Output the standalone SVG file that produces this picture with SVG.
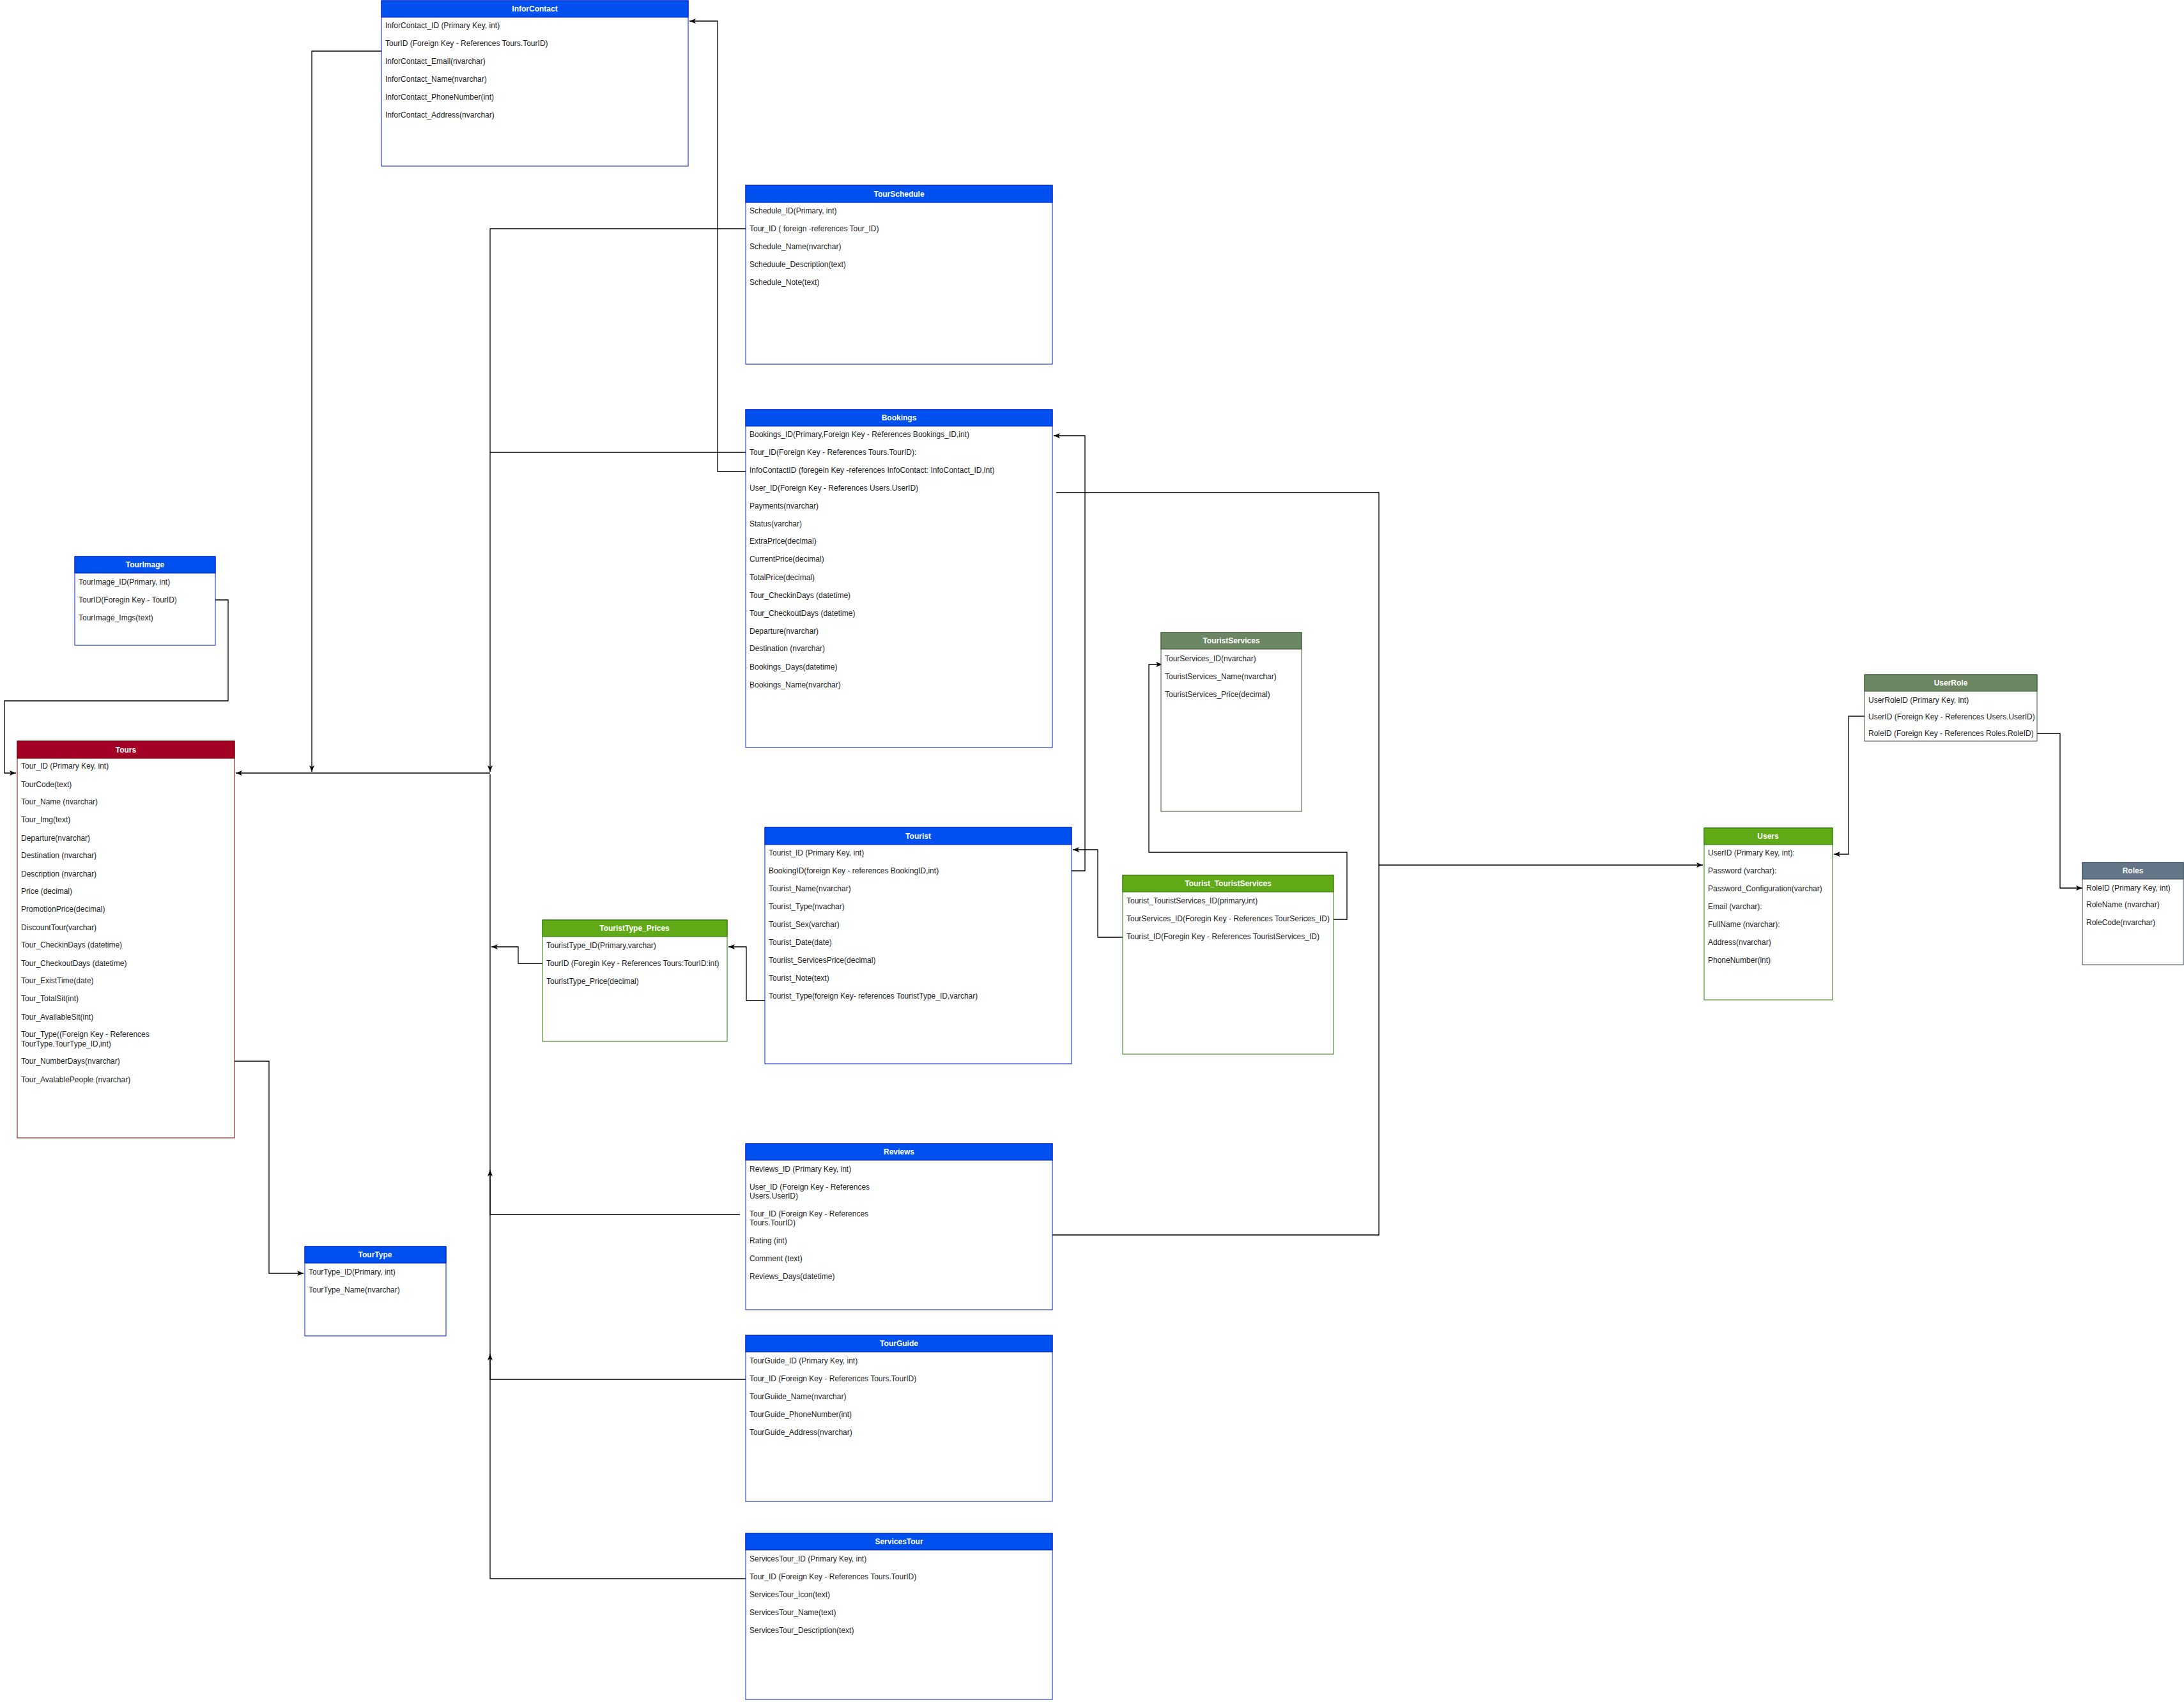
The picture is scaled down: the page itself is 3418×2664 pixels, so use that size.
<svg xmlns="http://www.w3.org/2000/svg" width="3418" height="2664" viewBox="0 0 3418 2664">
<style>
text{font-family:"Liberation Sans",Arial,Helvetica,sans-serif;font-size:12px;fill:#1a1a1a}
.h{font-weight:bold;fill:#ffffff;text-anchor:middle}
.body{fill:#ffffff}
.blue .body{stroke:#001DBC}
.blue .hd{fill:#0050EF;stroke:#001DBC}
.red .body{stroke:#6F0000}
.red .hd{fill:#A20025;stroke:#6F0000}
.green .body{stroke:#2D7600}
.green .hd{fill:#60A917;stroke:#2D7600}
.olive .body{stroke:#3A5431}
.olive .hd{fill:#6D8764;stroke:#3A5431}
.slate .body{stroke:#314354}
.slate .hd{fill:#647687;stroke:#314354}
.c path{fill:none;stroke:#000000;stroke-width:1.3}
</style>
<defs>
<marker id="arr" viewBox="0 0 10 8" refX="10" refY="4" markerWidth="10" markerHeight="8" orient="auto" markerUnits="userSpaceOnUse">
<path d="M0,0 L10,4 L0,8 L2.5,4 Z" fill="#000000"/>
</marker>
</defs>
<rect width="3418" height="2664" fill="#ffffff"/>

<g class="c" id="connectors">
<path d="M337,939 H357 V1097 H7 V1210 H25" marker-end="url(#arr)"/>
<path d="M597,80 H488 V1208" marker-end="url(#arr)"/>
<path d="M1167,358 H767 V1208" marker-end="url(#arr)"/>
<path d="M1167,708 H767"/>
<path d="M767,1210 H369" marker-end="url(#arr)"/>
<path d="M1158,1901 H767 V1212"/>
<path d="M1167,2159 H767 V1831" marker-end="url(#arr)"/>
<path d="M1167,2471 H767 V2119" marker-end="url(#arr)"/>
<path d="M849,1508 H811 V1482 H769" marker-end="url(#arr)"/>
<path d="M1197,1566 H1168 V1482 H1140" marker-end="url(#arr)"/>
<path d="M1677,1363 H1698 V682 H1649" marker-end="url(#arr)"/>
<path d="M1167,738 H1123 V33 H1079" marker-end="url(#arr)"/>
<path d="M1653,771 H2158 V1354 H2665" marker-end="url(#arr)"/>
<path d="M1647,1933 H2158 V1354"/>
<path d="M1757,1467 H1718 V1330 H1679" marker-end="url(#arr)"/>
<path d="M2087,1439 H2108 V1334 H1798 V1040 H1819" marker-end="url(#arr)"/>
<path d="M2918,1121 H2893 V1337 H2870" marker-end="url(#arr)"/>
<path d="M3188,1148 H3224 V1390 H3259" marker-end="url(#arr)"/>
<path d="M367,1661 H421 V1993 H475" marker-end="url(#arr)"/>
</g>

<g id="InforContact" class="blue">
<rect class="body" x="597" y="1" width="480" height="259"/>
<rect class="hd" x="597" y="1" width="480" height="26"/>
<text class="h" x="837" y="18">InforContact</text>
<text x="603" y="44">InforContact_ID (Primary Key, int)</text>
<text x="603" y="72">TourID (Foreign Key - References Tours.TourID)</text>
<text x="603" y="100">InforContact_Email(nvarchar)</text>
<text x="603" y="128">InforContact_Name(nvarchar)</text>
<text x="603" y="156">InforContact_PhoneNumber(int)</text>
<text x="603" y="184">InforContact_Address(nvarchar)</text>
</g>

<g id="TourSchedule" class="blue">
<rect class="body" x="1167" y="290" width="480" height="280"/>
<rect class="hd" x="1167" y="290" width="480" height="27"/>
<text class="h" x="1407" y="308">TourSchedule</text>
<text x="1173" y="334">Schedule_ID(Primary, int)</text>
<text x="1173" y="362">Tour_ID ( foreign -references Tour_ID)</text>
<text x="1173" y="390">Schedule_Name(nvarchar)</text>
<text x="1173" y="418">Scheduule_Description(text)</text>
<text x="1173" y="446">Schedule_Note(text)</text>
</g>

<g id="Bookings" class="blue">
<rect class="body" x="1167" y="641" width="480" height="529"/>
<rect class="hd" x="1167" y="641" width="480" height="26"/>
<text class="h" x="1407" y="658">Bookings</text>
<text x="1173" y="684">Bookings_ID(Primary,Foreign Key - References Bookings_ID,int)</text>
<text x="1173" y="712">Tour_ID(Foreign Key - References Tours.TourID):</text>
<text x="1173" y="740">InfoContactID (foregein Key -references InfoContact: InfoContact_ID,int)</text>
<text x="1173" y="768">User_ID(Foreign Key - References Users.UserID)</text>
<text x="1173" y="796">Payments(nvarchar)</text>
<text x="1173" y="824">Status(varchar)</text>
<text x="1173" y="851">ExtraPrice(decimal)</text>
<text x="1173" y="879">CurrentPrice(decimal)</text>
<text x="1173" y="908">TotalPrice(decimal)</text>
<text x="1173" y="936">Tour_CheckinDays (datetime)</text>
<text x="1173" y="964">Tour_CheckoutDays (datetime)</text>
<text x="1173" y="992">Departure(nvarchar)</text>
<text x="1173" y="1019">Destination (nvarchar)</text>
<text x="1173" y="1048">Bookings_Days(datetime)</text>
<text x="1173" y="1076">Bookings_Name(nvarchar)</text>
</g>

<g id="TourImage" class="blue">
<rect class="body" x="117" y="871" width="220" height="139"/>
<rect class="hd" x="117" y="871" width="220" height="26"/>
<text class="h" x="227" y="888">TourImage</text>
<text x="123" y="915">TourImage_ID(Primary, int)</text>
<text x="123" y="943">TourID(Foregin Key - TourID)</text>
<text x="123" y="971">TourImage_Imgs(text)</text>
</g>

<g id="Tours" class="red">
<rect class="body" x="27" y="1160" width="340" height="621"/>
<rect class="hd" x="27" y="1160" width="340" height="27"/>
<text class="h" x="197" y="1178">Tours</text>
<text x="33" y="1203">Tour_ID (Primary Key, int)</text>
<text x="33" y="1232">TourCode(text)</text>
<text x="33" y="1259">Tour_Name (nvarchar)</text>
<text x="33" y="1287">Tour_Img(text)</text>
<text x="33" y="1316">Departure(nvarchar)</text>
<text x="33" y="1343">Destination (nvarchar)</text>
<text x="33" y="1372">Description (nvarchar)</text>
<text x="33" y="1399">Price (decimal)</text>
<text x="33" y="1427">PromotionPrice(decimal)</text>
<text x="33" y="1456">DiscountTour(varchar)</text>
<text x="33" y="1483">Tour_CheckinDays (datetime)</text>
<text x="33" y="1512">Tour_CheckoutDays (datetime)</text>
<text x="33" y="1539">Tour_ExistTime(date)</text>
<text x="33" y="1567">Tour_TotalSit(int)</text>
<text x="33" y="1596">Tour_AvailableSit(int)</text>
<text x="33" y="1623">Tour_Type((Foreign Key - References</text>
<text x="33" y="1638">TourType.TourType_ID,int)</text>
<text x="33" y="1665">Tour_NumberDays(nvarchar)</text>
<text x="33" y="1694">Tour_AvalablePeople (nvarchar)</text>
</g>

<g id="TouristType_Prices" class="green">
<rect class="body" x="849" y="1440" width="289" height="190"/>
<rect class="hd" x="849" y="1440" width="289" height="26"/>
<text class="h" x="993" y="1457">TouristType_Prices</text>
<text x="855" y="1484">TouristType_ID(Primary,varchar)</text>
<text x="855" y="1512">TourID (Foregin Key -  References Tours:TourID:int)</text>
<text x="855" y="1540">TouristType_Price(decimal)</text>
</g>

<g id="Tourist" class="blue">
<rect class="body" x="1197" y="1295" width="480" height="370"/>
<rect class="hd" x="1197" y="1295" width="480" height="27"/>
<text class="h" x="1437" y="1313">Tourist</text>
<text x="1203" y="1339">Tourist_ID (Primary Key, int)</text>
<text x="1203" y="1367">BookingID(foreign Key - references BookingID,int)</text>
<text x="1203" y="1395">Tourist_Name(nvarchar)</text>
<text x="1203" y="1423">Tourist_Type(nvachar)</text>
<text x="1203" y="1451">Tourist_Sex(varchar)</text>
<text x="1203" y="1479">Tourist_Date(date)</text>
<text x="1203" y="1507">Touriist_ServicesPrice(decimal)</text>
<text x="1203" y="1535">Tourist_Note(text)</text>
<text x="1203" y="1563">Tourist_Type(foreign Key- references TouristType_ID,varchar)</text>
</g>

<g id="TouristServices" class="olive">
<rect class="body" x="1817" y="990" width="220" height="280"/>
<rect class="hd" x="1817" y="990" width="220" height="26"/>
<text class="h" x="1927" y="1007">TouristServices</text>
<text x="1823" y="1035">TourServices_ID(nvarchar)</text>
<text x="1823" y="1063">TouristServices_Name(nvarchar)</text>
<text x="1823" y="1091">TouristServices_Price(decimal)</text>
</g>

<g id="Tourist_TouristServices" class="green">
<rect class="body" x="1757" y="1370" width="330" height="280"/>
<rect class="hd" x="1757" y="1370" width="330" height="26"/>
<text class="h" x="1922" y="1387">Tourist_TouristServices</text>
<text x="1763" y="1414">Tourist_TouristServices_ID(primary,int)</text>
<text x="1763" y="1442">TourServices_ID(Foregin Key - References TourSerices_ID)</text>
<text x="1763" y="1470">Tourist_ID(Foregin Key - References TouristServices_ID)</text>
</g>

<g id="UserRole" class="olive">
<rect class="body" x="2918" y="1056" width="270" height="104"/>
<rect class="hd" x="2918" y="1056" width="270" height="26"/>
<text class="h" x="3053" y="1073">UserRole</text>
<text x="2924" y="1100">UserRoleID (Primary Key, int)</text>
<text x="2924" y="1126">UserID (Foreign Key - References Users.UserID)</text>
<text x="2924" y="1152">RoleID (Foreign Key - References Roles.RoleID)</text>
</g>

<g id="Users" class="green">
<rect class="body" x="2667" y="1296" width="201" height="269"/>
<rect class="hd" x="2667" y="1296" width="201" height="26"/>
<text class="h" x="2767" y="1313">Users</text>
<text x="2673" y="1339">UserID (Primary Key, int):</text>
<text x="2673" y="1367">Password (varchar):</text>
<text x="2673" y="1395">Password_Configuration(varchar)</text>
<text x="2673" y="1423">Email (varchar):</text>
<text x="2673" y="1451">FullName (nvarchar):</text>
<text x="2673" y="1479">Address(nvarchar)</text>
<text x="2673" y="1507">PhoneNumber(int)</text>
</g>

<g id="Roles" class="slate">
<rect class="body" x="3259" y="1350" width="158" height="160"/>
<rect class="hd" x="3259" y="1350" width="158" height="26"/>
<text class="h" x="3338" y="1367">Roles</text>
<text x="3265" y="1394">RoleID (Primary Key, int)</text>
<text x="3265" y="1420">RoleName (nvarchar)</text>
<text x="3265" y="1448">RoleCode(nvarchar)</text>
</g>

<g id="TourType" class="blue">
<rect class="body" x="477" y="1951" width="221" height="140"/>
<rect class="hd" x="477" y="1951" width="221" height="26"/>
<text class="h" x="587" y="1968">TourType</text>
<text x="483" y="1995">TourType_ID(Primary, int)</text>
<text x="483" y="2023">TourType_Name(nvarchar)</text>
</g>

<g id="Reviews" class="blue">
<rect class="body" x="1167" y="1790" width="480" height="260"/>
<rect class="hd" x="1167" y="1790" width="480" height="26"/>
<text class="h" x="1407" y="1807">Reviews</text>
<text x="1173" y="1834">Reviews_ID (Primary Key, int)</text>
<text x="1173" y="1862">User_ID (Foreign Key - References</text>
<text x="1173" y="1876">Users.UserID)</text>
<text x="1173" y="1904">Tour_ID (Foreign Key - References</text>
<text x="1173" y="1918">Tours.TourID)</text>
<text x="1173" y="1946">Rating (int)</text>
<text x="1173" y="1974">Comment (text)</text>
<text x="1173" y="2002">Reviews_Days(datetime)</text>
</g>

<g id="TourGuide" class="blue">
<rect class="body" x="1167" y="2090" width="480" height="260"/>
<rect class="hd" x="1167" y="2090" width="480" height="26"/>
<text class="h" x="1407" y="2107">TourGuide</text>
<text x="1173" y="2134">TourGuide_ID (Primary Key, int)</text>
<text x="1173" y="2162">Tour_ID (Foreign Key - References Tours.TourID)</text>
<text x="1173" y="2190">TourGuiide_Name(nvarchar)</text>
<text x="1173" y="2218">TourGuide_PhoneNumber(int)</text>
<text x="1173" y="2246">TourGuide_Address(nvarchar)</text>
</g>

<g id="ServicesTour" class="blue">
<rect class="body" x="1167" y="2400" width="480" height="260"/>
<rect class="hd" x="1167" y="2400" width="480" height="26"/>
<text class="h" x="1407" y="2417">ServicesTour</text>
<text x="1173" y="2444">ServicesTour_ID (Primary Key, int)</text>
<text x="1173" y="2472">Tour_ID (Foreign Key - References Tours.TourID)</text>
<text x="1173" y="2500">ServicesTour_Icon(text)</text>
<text x="1173" y="2528">ServicesTour_Name(text)</text>
<text x="1173" y="2556">ServicesTour_Description(text)</text>
</g>
</svg>
